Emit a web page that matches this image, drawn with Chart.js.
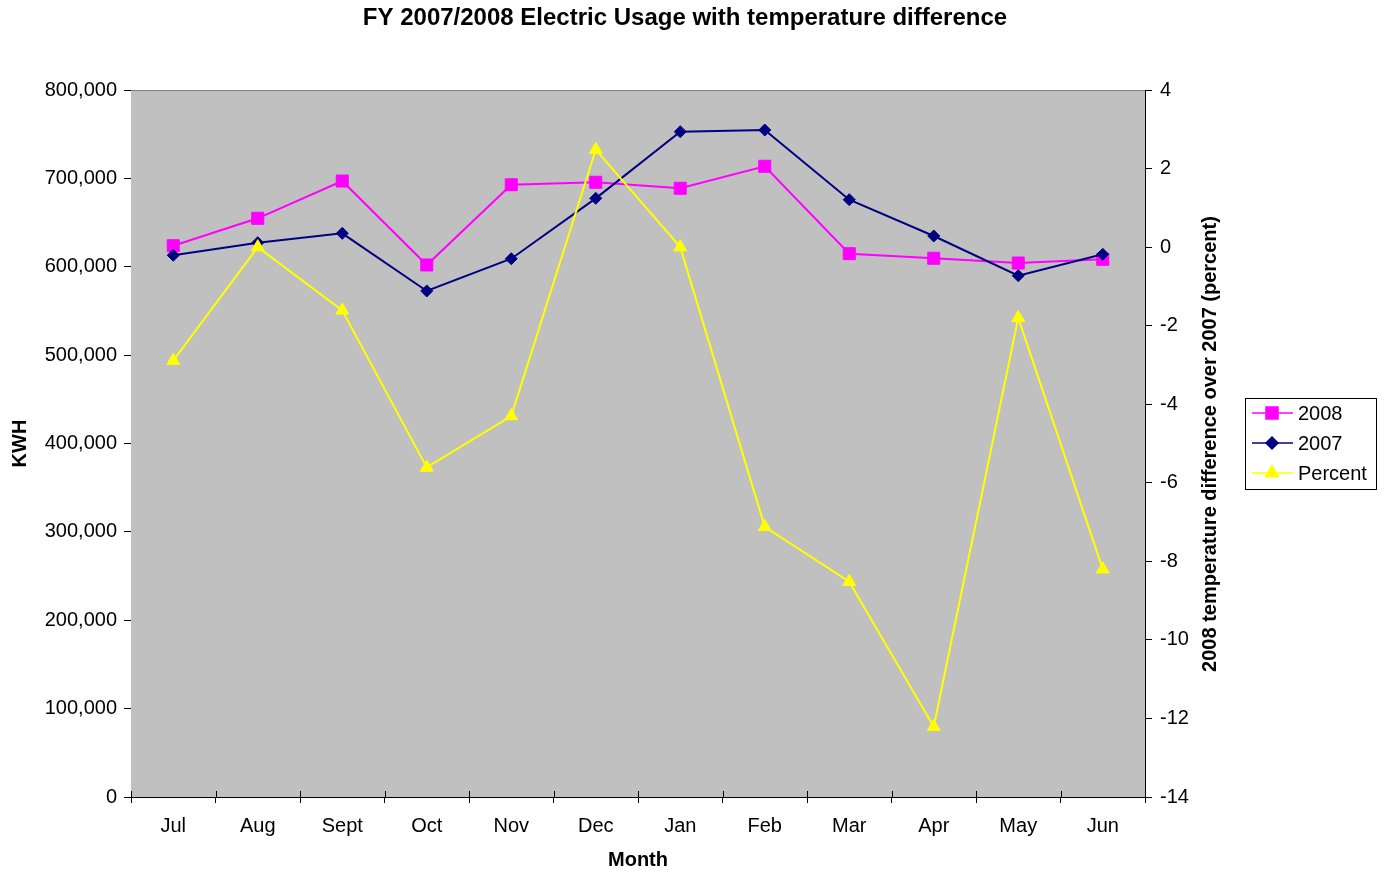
<!DOCTYPE html>
<html lang="en">
<head>
<meta charset="UTF-8">
<title>FY 2007/2008 Electric Usage</title>
<script src="https://cdn.jsdelivr.net/npm/chart.js"></script>
<style>
    body { margin: 0; background: #fff; }
    .wrap { position: relative; width: 1387px; height: 874px; }
</style>
</head>
<body>
<div class="wrap"><canvas id="chart"></canvas></div>
<script>
    const months = ['Jul', 'Aug', 'Sept', 'Oct', 'Nov', 'Dec', 'Jan', 'Feb', 'Mar', 'Apr', 'May', 'Jun'];
    const kwh2008 = [623800, 654800, 697000, 602000, 692800, 695600, 688800, 713700, 614800, 609600, 604200, 608400];
    const kwh2007 = [613000, 627200, 637800, 572600, 609100, 677400, 752800, 754700, 675900, 634800, 589900, 614100];
    const tempPercent = [-2.89, 0.0, -1.61, -5.61, -4.30, 2.48, 0.0, -7.12, -8.52, -12.21, -1.80, -8.20];

    const FONT = 'Arial, "Liberation Sans", sans-serif';

    // plot background, main title, right axis title and legend
    const extras = {
        id: 'extras',
        beforeDatasetsDraw(chart) {
            const { ctx, chartArea: a } = chart;
            ctx.save();
            ctx.fillStyle = '#c0c0c0';
            ctx.fillRect(a.left, a.top, a.right - a.left, a.bottom - a.top);
            ctx.strokeStyle = '#808080';
            ctx.lineWidth = 1;
            ctx.beginPath();
            ctx.moveTo(a.left, a.top + 0.5);
            ctx.lineTo(a.right, a.top + 0.5);
            ctx.stroke();
            // x ticks also poke into the plot a little
            const xs = chart.scales.x;
            ctx.strokeStyle = '#000';
            ctx.beginPath();
            for (let i = 0; i <= months.length; i++) {
                const px = Math.round(xs.getPixelForValue(i - 0.5)) + 0.5;
                ctx.moveTo(px, a.bottom - 6);
                ctx.lineTo(px, a.bottom);
            }
            ctx.stroke();
            ctx.restore();
        },
        afterDraw(chart) {
            const { ctx } = chart;
            ctx.save();
            ctx.fillStyle = '#000';
            ctx.font = 'bold 24px ' + FONT;
            ctx.textAlign = 'center';
            ctx.textBaseline = 'middle';
            ctx.fillText('FY 2007/2008 Electric Usage with temperature difference', 685, 18);

            ctx.font = 'bold 20px ' + FONT;
            ctx.translate(1210, 444);
            ctx.rotate(-Math.PI / 2);
            ctx.fillText('2008 temperature difference over 2007 (percent)', 0, 0);
            ctx.setTransform(1, 0, 0, 1, 0, 0);

            // legend
            ctx.fillStyle = '#fff';
            ctx.fillRect(1245, 398, 131, 91);
            ctx.strokeStyle = '#000';
            ctx.lineWidth = 1;
            ctx.strokeRect(1245.5, 398.5, 131, 91);
            chart.data.datasets.forEach((ds, i) => {
                const y = 413 + i * 30;
                ctx.strokeStyle = ds.borderColor;
                ctx.lineWidth = 1.5;
                ctx.beginPath();
                ctx.moveTo(1252, y);
                ctx.lineTo(1293, y);
                ctx.stroke();
                ctx.fillStyle = ds.borderColor;
                Chart.helpers.drawPoint(ctx, { pointStyle: ds.pointStyle, radius: ds.pointRadius, borderWidth: 1 }, 1272, y);
                ctx.fill();
                ctx.fillStyle = '#000';
                ctx.font = '20px ' + FONT;
                ctx.textAlign = 'left';
                ctx.fillText(ds.label, 1298, y + 1);
            });
            ctx.restore();
        }
    };

    new Chart(document.getElementById('chart'), {
        type: 'line',
        data: {
            labels: months,
            datasets: [
                {
                    label: '2008', data: kwh2008, yAxisID: 'y',
                    borderColor: '#ff00ff', backgroundColor: '#ff00ff', borderWidth: 2,
                    pointStyle: 'rect', pointRadius: 8.5, pointBorderWidth: 1, order: 2
                },
                {
                    label: '2007', data: kwh2007, yAxisID: 'y',
                    borderColor: '#000080', backgroundColor: '#000080', borderWidth: 2,
                    pointStyle: 'rectRot', pointRadius: 6, pointBorderWidth: 1, order: 1
                },
                {
                    label: 'Percent', data: tempPercent, yAxisID: 'y1',
                    borderColor: '#ffff00', backgroundColor: '#ffff00', borderWidth: 2,
                    pointStyle: 'triangle', pointRadius: 7.5, pointBorderWidth: 1, order: 0
                }
            ]
        },
        options: {
            responsive: true,
            maintainAspectRatio: false,
            animation: false,
            layout: { padding: { top: 90, right: 182, bottom: 0, left: 0 } },
            plugins: {
                legend: { display: false },
                tooltip: { enabled: false }
            },
            scales: {
                x: {
                    offset: true,
                    grid: { offset: true, drawOnChartArea: false, color: '#000', tickLength: 6 },
                    border: { color: '#000' },
                    ticks: { color: '#000', font: { family: FONT, size: 20 }, padding: 11, maxRotation: 0 },
                    title: { display: true, text: 'Month', color: '#000', padding: { top: 0, bottom: 2 },
                        font: { family: FONT, size: 20, weight: 'bold' } },
                    afterFit(s) { s.height = 77; }
                },
                y: {
                    position: 'left',
                    min: 0, max: 800000,
                    grid: { drawOnChartArea: false, color: '#000', tickLength: 7 },
                    border: { color: '#000' },
                    ticks: {
                        stepSize: 100000, color: '#000', padding: 7,
                        font: { family: FONT, size: 20 },
                        callback: v => v.toLocaleString('en-US')
                    },
                    title: { display: true, text: 'KWH', color: '#000', padding: { top: 8, bottom: 0 },
                        font: { family: FONT, size: 20, weight: 'bold' } },
                    afterFit(s) { s.width = 131; }
                },
                y1: {
                    position: 'right',
                    min: -14, max: 4,
                    grid: { drawOnChartArea: false, color: '#000', tickLength: 7 },
                    border: { color: '#000' },
                    ticks: { stepSize: 2, color: '#000', padding: 8, font: { family: FONT, size: 20 } },
                    afterFit(s) { s.width = 60; }
                }
            }
        },
        plugins: [extras]
    });
</script>
</body>
</html>
